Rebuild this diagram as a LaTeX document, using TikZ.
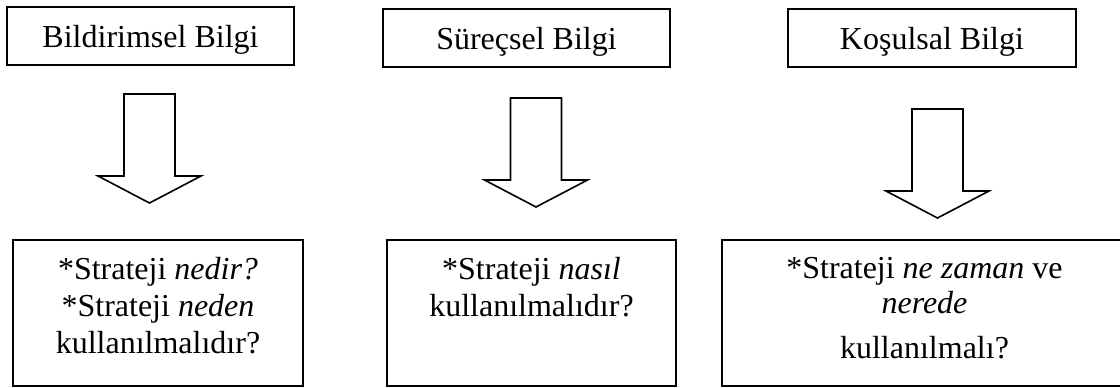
\documentclass[tikz,border=0pt]{standalone}
\usepackage{fontspec}
\setmainfont{Liberation Serif}
\usetikzlibrary{positioning}
\begin{document}
\begin{tikzpicture}[x=.5pt,y=-.5pt,
	topbox/.style={draw,line width=1pt,minimum height=29pt,inner sep=0pt,text height=11pt,text depth=0pt},
	qbox/.style={draw,line width=1pt,minimum height=73pt,inner sep=0pt},
	qtext/.style={align=center,inner sep=0pt,font=\fontsize{16}{18.5}\selectfont}]
	\useasboundingbox (0,0) rectangle (1120,387);
	\begin{scope}[font=\fontsize{16}{18.5}\selectfont]
	\node[topbox,minimum width=143.5pt] (bb) at (150.5,36) {Bildirimsel Bilgi};
	\node[topbox,minimum width=143.5pt] (sb) at (526.5,38) {Süreçsel Bilgi};
	\node[topbox,minimum width=144pt] (kb) at (932,38) {Koşulsal Bilgi};
	\end{scope}
	\foreach \x/\t in {149.5/94,536/98,937.5/109}
		\draw[line width=.8pt,line join=miter] (\x-25.5,\t)--(\x+25.5,\t)--(\x+25.5,\t+82)--(\x+51.5,\t+82)
			--(\x,\t+109)--(\x-51.5,\t+82)--(\x-25.5,\t+82)--cycle;
	\node[qbox,minimum width=145pt] (bq) at (158,313) {};
	\node[qbox,minimum width=144.5pt] (sq) at (531.5,313) {};
	\node[qbox,minimum width=202.5pt] (kq) at (924.5,313) {};
	\node[qtext,below=9pt of bq.north] (bt) {*Strateji \textit{nedir?}\\*Strateji \textit{neden}\\kullanılmalıdır?};
	\node[qtext,below=9pt of sq.north] (st) {*Strateji \textit{nasıl}\\kullanılmalıdır?};
	\node[qtext,below=9pt of kq.north] (kt) {*Strateji \textit{ne zaman} ve\\[-1pt]\textit{nerede}\\[4pt]kullanılmalı?};
	%\draw (bb)--(bq);
\end{tikzpicture}
\end{document}
